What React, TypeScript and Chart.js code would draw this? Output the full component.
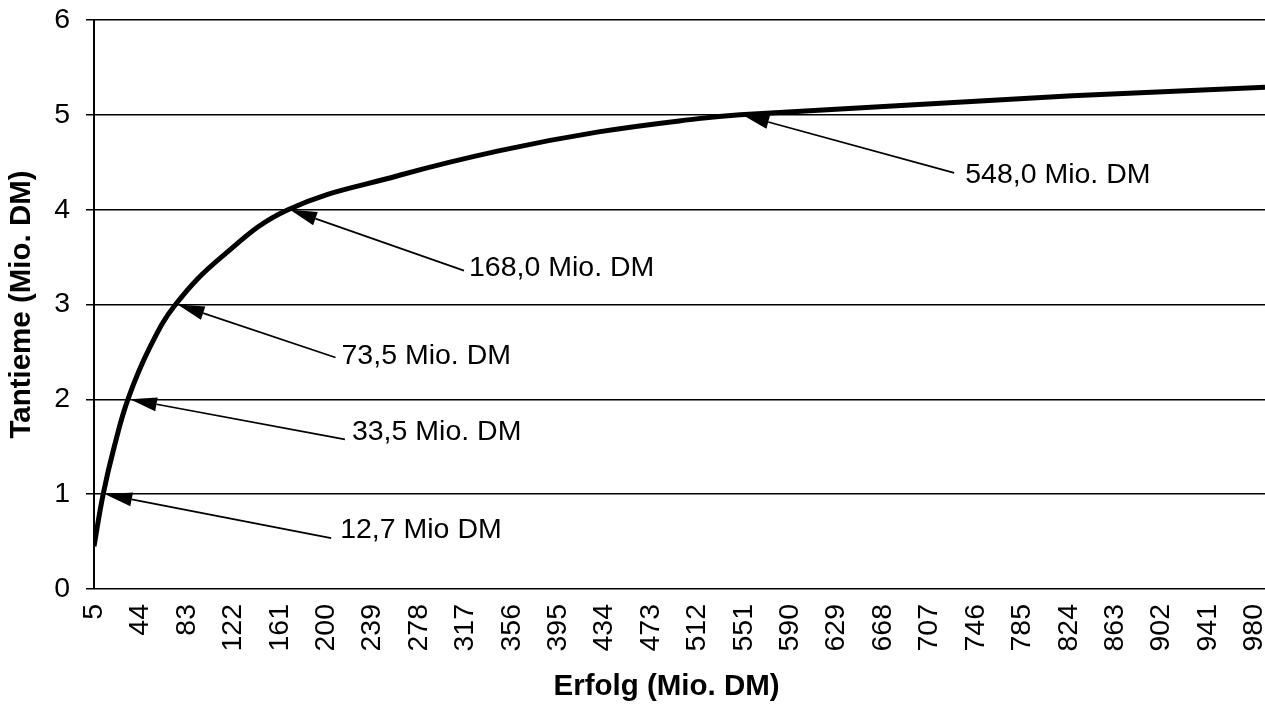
import { useEffect, useRef } from "react";
import { Chart, registerables } from "chart.js";

Chart.register(...registerables);

// ---- data ----
const erfolg = [5, 12.7, 22, 33.5, 52, 73.5, 112, 168, 261, 345, 429, 513, 548, 687, 827, 989];
const tantieme = [0.45, 1, 1.5, 2, 2.55, 3, 3.5, 4, 4.36, 4.62, 4.82, 4.96, 5, 5.1, 5.2, 5.29];

const xTickValues = [
  5, 44, 83, 122, 161, 200, 239, 278, 317, 356, 395, 434, 473, 512, 551, 590, 629, 668, 707, 746,
  785, 824, 863, 902, 941, 980,
];
const yTickValues = [0, 1, 2, 3, 4, 5, 6];

const annotErfolg = [12.7, 33.5, 73.5, 168, 548];
const annotTantieme = [1, 2, 3, 4, 5];
const annotLabels = ["12,7 Mio DM", "33,5 Mio. DM", "73,5 Mio. DM", "168,0 Mio. DM", "548,0 Mio. DM"];

const xTitle = "Erfolg (Mio. DM)";
const yTitle = "Tantieme (Mio. DM)";

// ---- layout / style (pixel offsets from the arrow tip) ----
const leaderDx = [226, 215, 158, 174, 212];
const leaderDy = [44, 40, 53, 61, 58];
const textDx = [235, 222, 164, 179, 223];
const textDy = [36, 33, 52, 58, 60];

const FONT = "'Liberation Sans', Arial, Helvetica, sans-serif";
const FS = 28.5;
const TITLE_FS = 29.5;

const arrowPlugin = {
  id: "arrowAnnotations",
  afterDatasetsDraw(chart: any) {
    const { ctx } = chart;
    const x = chart.scales.x;
    const y = chart.scales.y;
    ctx.save();
    annotErfolg.forEach((v, i) => {
      const tx = x.getPixelForValue(v) + 2;
      const ty = y.getPixelForValue(annotTantieme[i]);
      const ex = tx + leaderDx[i];
      const ey = ty + leaderDy[i];
      const ang = Math.atan2(ey - ty, ex - tx);
      const headLen = 27;
      const headHalf = 7;
      const bx = tx + Math.cos(ang) * headLen;
      const by = ty + Math.sin(ang) * headLen;
      ctx.strokeStyle = "#000";
      ctx.lineWidth = 1.7;
      ctx.beginPath();
      ctx.moveTo(bx, by);
      ctx.lineTo(ex, ey);
      ctx.stroke();
      ctx.fillStyle = "#000";
      ctx.beginPath();
      ctx.moveTo(tx, ty);
      ctx.lineTo(bx - Math.sin(ang) * headHalf, by + Math.cos(ang) * headHalf);
      ctx.lineTo(bx + Math.sin(ang) * headHalf, by - Math.cos(ang) * headHalf);
      ctx.closePath();
      ctx.fill();
      ctx.font = `${FS}px ${FONT}`;
      ctx.textAlign = "left";
      ctx.textBaseline = "middle";
      ctx.fillText(annotLabels[i], tx + textDx[i], ty + textDy[i]);
    });
    ctx.restore();
  },
  afterDraw(chart: any) {
    // x-axis title, placed slightly left of the plot centre as in the (cropped) original
    const { ctx, chartArea } = chart;
    ctx.save();
    ctx.font = `bold ${TITLE_FS}px ${FONT}`;
    ctx.fillStyle = "#000";
    ctx.textAlign = "center";
    ctx.textBaseline = "middle";
    ctx.fillText(xTitle, chartArea.left + (chartArea.right - chartArea.left) * 0.489, chart.height - 18);
    ctx.restore();
  },
};

export default function App() {
  const canvasRef = useRef<HTMLCanvasElement | null>(null);

  useEffect(() => {
    if (!canvasRef.current) return;
    const chart = new Chart(canvasRef.current, {
      type: "line",
      data: {
        datasets: [
          {
            label: "Tantieme",
            data: erfolg.map((e, i) => ({ x: e, y: tantieme[i] })),
            borderColor: "#000",
            borderWidth: 5,
            pointRadius: 0,
            tension: 0.4,
            fill: false,
          },
        ],
      },
      options: {
        animation: false,
        responsive: false,
        devicePixelRatio: 1,
        layout: { padding: { top: 20, right: 0, left: 0, bottom: 0 } },
        plugins: { legend: { display: false }, tooltip: { enabled: false } },
        scales: {
          x: {
            type: "linear",
            min: 5,
            max: 989,
            grid: { display: false, drawTicks: false },
            border: { display: false },
            afterBuildTicks: (scale: any) => {
              scale.ticks = xTickValues.map((v) => ({ value: v }));
            },
            afterFit: (scale: any) => {
              scale.height = 116;
              scale.paddingLeft = 0;
              scale.paddingRight = 0;
            },
            ticks: {
              autoSkip: false,
              minRotation: 90,
              maxRotation: 90,
              padding: 15,
              color: "#000",
              font: { family: FONT, size: FS },
              callback: (v: any) => String(v),
            },
            title: { display: false, text: xTitle },
          },
          y: {
            type: "linear",
            min: 0,
            max: 6,
            afterBuildTicks: (scale: any) => {
              scale.ticks = yTickValues.map((v) => ({ value: v }));
            },
            afterFit: (scale: any) => {
              scale.width = 94;
              scale.paddingTop = 0;
              scale.paddingBottom = 0;
            },
            grid: {
              color: "#000",
              lineWidth: 1.5,
              drawTicks: true,
              tickLength: 8,
              tickColor: "#000",
            },
            border: { display: true, color: "#000", width: 2 },
            ticks: {
              padding: 16,
              color: "#000",
              font: { family: FONT, size: FS },
              callback: (v: any) => String(v),
            },
            title: {
              display: true,
              text: yTitle,
              color: "#000",
              padding: { top: 4, bottom: 0 },
              font: { family: FONT, size: TITLE_FS, weight: "bold" },
            },
          },
        },
      },
      plugins: [arrowPlugin],
    } as any);
    return () => chart.destroy();
  }, []);

  return (
    <div style={{ position: "absolute", left: 0, top: 0, width: 1265, height: 705, background: "#fff" }}>
      <canvas ref={canvasRef} width={1265} height={705} />
    </div>
  );
}
